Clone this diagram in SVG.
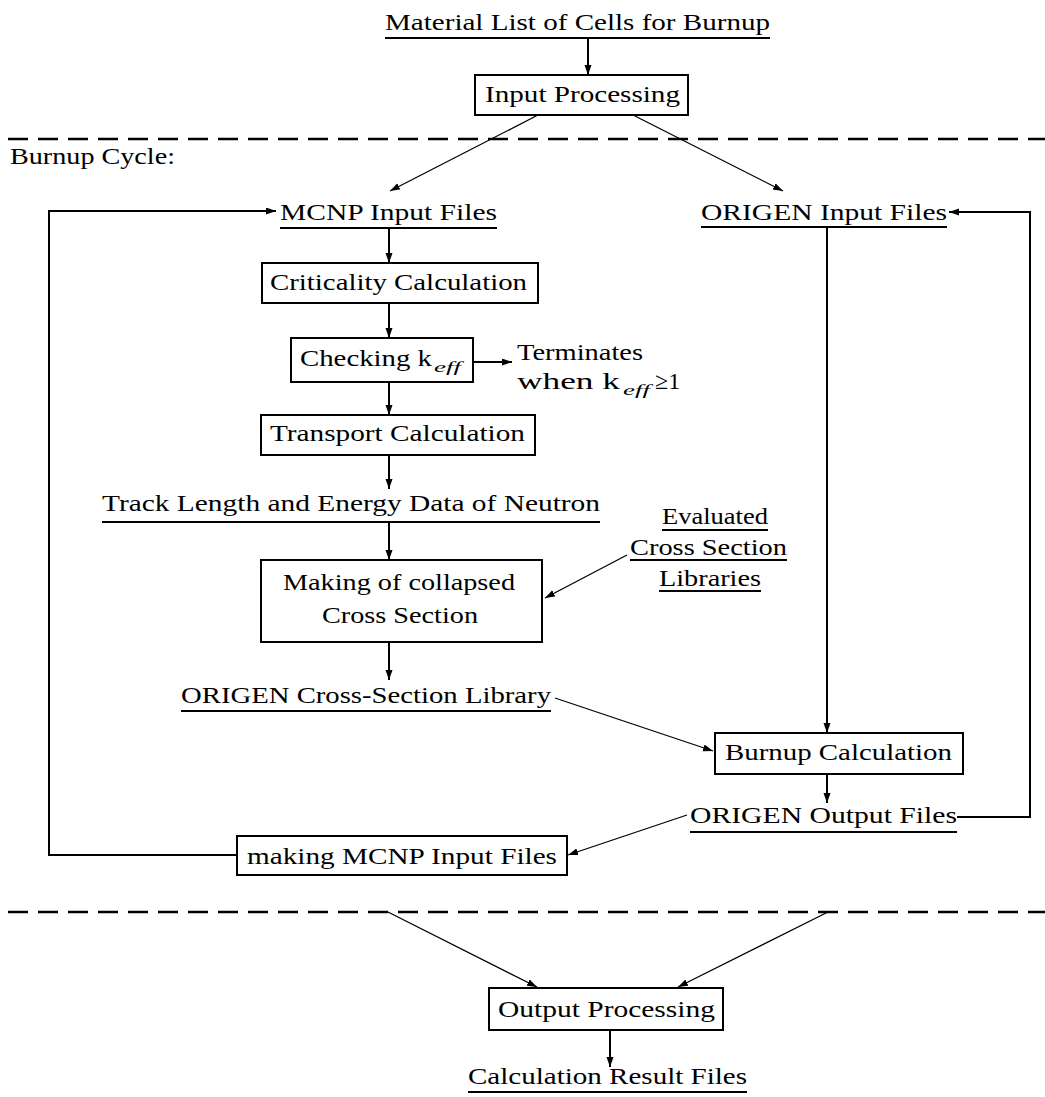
<svg xmlns="http://www.w3.org/2000/svg" width="1045" height="1097" viewBox="0 0 1045 1097" font-family="Liberation Serif, Times New Roman, serif">
<style>
text{font-family:'Liberation Serif','Times New Roman',serif;font-size:24px;fill:#000}
.sub{font-style:italic;font-size:14px}
.box{fill:#fff;stroke:#000;stroke-width:2}
.ul{stroke:#000;stroke-width:2.2}
.v{fill:none;stroke:#000;stroke-width:2}
.d{fill:none;stroke:#000;stroke-width:1.3}
.dash{stroke:#000;stroke-width:2.5;stroke-dasharray:20 10}
</style>
<defs>
<marker id="ah" markerUnits="userSpaceOnUse" markerWidth="11" markerHeight="8" refX="10" refY="3.5" orient="auto">
<path d="M0,0 L10,3.5 L0,7 z" fill="#000"/>
</marker>
</defs>
<rect width="1045" height="1097" fill="#fff"/>
<g id="separators">
<line class="dash" x1="8" y1="139" x2="1045" y2="139"/>
<line class="dash" x1="8" y1="912" x2="1045" y2="912"/>
</g>
<g id="connectors">
<line class="v" x1="588" y1="39" x2="588" y2="75" marker-end="url(#ah)"/>
<line class="d" x1="538" y1="115" x2="390" y2="191" marker-end="url(#ah)"/>
<line class="d" x1="633" y1="115" x2="783" y2="191" marker-end="url(#ah)"/>
<polyline class="v" points="237,855 49,855 49,211 276,211" marker-end="url(#ah)"/>
<line class="v" x1="389" y1="229" x2="389" y2="263" marker-end="url(#ah)"/>
<line class="v" x1="389" y1="303" x2="389" y2="338" marker-end="url(#ah)"/>
<line class="v" x1="473" y1="362" x2="512" y2="362" marker-end="url(#ah)"/>
<line class="v" x1="389" y1="382" x2="389" y2="415" marker-end="url(#ah)"/>
<line class="v" x1="389" y1="455" x2="389" y2="489" marker-end="url(#ah)"/>
<line class="v" x1="389" y1="523" x2="389" y2="560" marker-end="url(#ah)"/>
<line class="d" x1="627" y1="555" x2="545" y2="598" marker-end="url(#ah)"/>
<line class="v" x1="389" y1="642" x2="389" y2="680" marker-end="url(#ah)"/>
<line class="d" x1="555" y1="698" x2="713" y2="751" marker-end="url(#ah)"/>
<line class="v" x1="827" y1="228" x2="827" y2="733" marker-end="url(#ah)"/>
<line class="v" x1="827" y1="774" x2="827" y2="803" marker-end="url(#ah)"/>
<line class="d" x1="687" y1="815" x2="568" y2="855" marker-end="url(#ah)"/>
<polyline class="v" points="957,817 1030,817 1030,212 949,212" marker-end="url(#ah)"/>
<line class="d" x1="388" y1="912" x2="537" y2="987" marker-end="url(#ah)"/>
<line class="d" x1="828" y1="912" x2="678" y2="987" marker-end="url(#ah)"/>
<line class="v" x1="610" y1="1030" x2="610" y2="1067" marker-end="url(#ah)"/>
</g>
<g id="material-list">
<text x="385" y="30" textLength="385" lengthAdjust="spacingAndGlyphs">Material List of Cells for Burnup</text>
<line class="ul" x1="385" y1="38" x2="770" y2="38"/>
</g>
<g id="input-processing">
<rect class="box" x="475" y="75" width="213" height="40"/>
<text x="485" y="102" textLength="195" lengthAdjust="spacingAndGlyphs">Input Processing</text>
</g>
<g id="burnup-cycle-label">
<text x="10" y="164" textLength="165" lengthAdjust="spacingAndGlyphs">Burnup Cycle:</text>
</g>
<g id="mcnp-input">
<text x="280" y="220" textLength="217" lengthAdjust="spacingAndGlyphs">MCNP Input Files</text>
<line class="ul" x1="280" y1="228" x2="497" y2="228"/>
</g>
<g id="origen-input">
<text x="701" y="220" textLength="246" lengthAdjust="spacingAndGlyphs">ORIGEN Input Files</text>
<line class="ul" x1="701" y1="227" x2="947" y2="227"/>
</g>
<g id="criticality">
<rect class="box" x="262" y="263" width="276" height="40"/>
<text x="270" y="290" textLength="257" lengthAdjust="spacingAndGlyphs">Criticality Calculation</text>
</g>
<g id="checking-keff">
<rect class="box" x="291" y="338" width="182" height="44"/>
<text x="300" y="366" textLength="132" lengthAdjust="spacingAndGlyphs">Checking k</text>
<text class="sub" x="434" y="372" textLength="27" lengthAdjust="spacingAndGlyphs">eff</text>
</g>
<g id="terminates">
<text x="517" y="360" textLength="126" lengthAdjust="spacingAndGlyphs">Terminates</text>
<text x="517" y="389" textLength="103" lengthAdjust="spacingAndGlyphs">when k</text>
<text class="sub" x="623" y="395" textLength="27" lengthAdjust="spacingAndGlyphs">eff</text>
<text x="655" y="389">≥1</text>
</g>
<g id="transport">
<rect class="box" x="261" y="415" width="274" height="40"/>
<text x="270" y="441" textLength="255" lengthAdjust="spacingAndGlyphs">Transport Calculation</text>
</g>
<g id="track-length">
<text x="102" y="511" textLength="498" lengthAdjust="spacingAndGlyphs">Track Length and Energy Data of Neutron</text>
<line class="ul" x1="102" y1="522" x2="600" y2="522"/>
</g>
<g id="collapsed-xs">
<rect class="box" x="261" y="560" width="281" height="82"/>
<text x="283" y="590" textLength="232" lengthAdjust="spacingAndGlyphs">Making of collapsed</text>
<text x="322" y="623" textLength="156" lengthAdjust="spacingAndGlyphs">Cross Section</text>
</g>
<g id="evaluated-libraries">
<text x="662" y="524" textLength="106" lengthAdjust="spacingAndGlyphs">Evaluated</text>
<line class="ul" x1="662" y1="530" x2="768" y2="530"/>
<text x="630" y="555" textLength="157" lengthAdjust="spacingAndGlyphs">Cross Section</text>
<line class="ul" x1="630" y1="560" x2="787" y2="560"/>
<text x="659" y="586" textLength="102" lengthAdjust="spacingAndGlyphs">Libraries</text>
<line class="ul" x1="659" y1="591" x2="761" y2="591"/>
</g>
<g id="origen-xs-library">
<text x="181" y="703" textLength="370" lengthAdjust="spacingAndGlyphs">ORIGEN Cross-Section Library</text>
<line class="ul" x1="181" y1="711" x2="551" y2="711"/>
</g>
<g id="burnup-calc">
<rect class="box" x="715" y="733" width="248" height="41"/>
<text x="725" y="760" textLength="227" lengthAdjust="spacingAndGlyphs">Burnup Calculation</text>
</g>
<g id="origen-output">
<text x="690" y="823" textLength="267" lengthAdjust="spacingAndGlyphs">ORIGEN Output Files</text>
<line class="ul" x1="690" y1="832" x2="957" y2="832"/>
</g>
<g id="making-mcnp">
<rect class="box" x="237" y="836" width="330" height="39"/>
<text x="247" y="864" textLength="310" lengthAdjust="spacingAndGlyphs">making MCNP Input Files</text>
</g>
<g id="output-processing">
<rect class="box" x="489" y="988" width="234" height="42"/>
<text x="498" y="1017" textLength="217" lengthAdjust="spacingAndGlyphs">Output Processing</text>
</g>
<g id="result-files">
<text x="468" y="1084" textLength="279" lengthAdjust="spacingAndGlyphs">Calculation Result Files</text>
<line class="ul" x1="468" y1="1092" x2="747" y2="1092"/>
</g>
</svg>
